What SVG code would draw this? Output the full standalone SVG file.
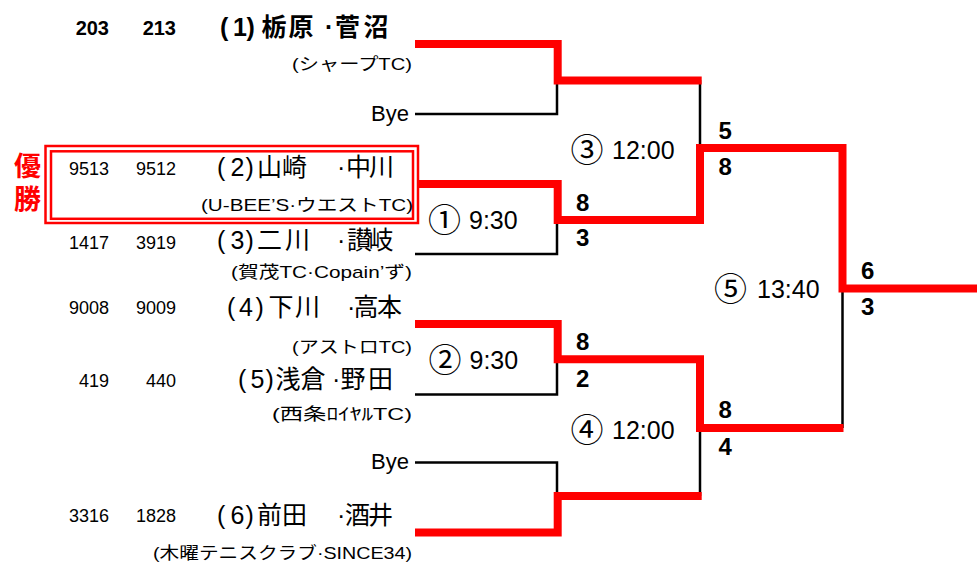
<svg xmlns="http://www.w3.org/2000/svg" width="977" height="562" viewBox="0 0 977 562">
<style>
text{font-family:"Liberation Sans","Noto Sans CJK JP",sans-serif;fill:#000}
.seed{font-size:18px}
.seedb{font-size:20px;font-weight:bold}
.name{font-size:25px}
.nameb{font-size:25px;font-weight:bold}
.club{font-size:17px}
.bye{font-size:22px}
.score{font-size:24px;font-weight:bold}
.circ{font-size:33px;font-family:"Noto Sans CJK JP",sans-serif}
.time{font-size:25px}
.win{font-size:27px;font-weight:bold;fill:#ff0000;font-family:"Noto Sans CJK JP",sans-serif;writing-mode:vertical-rl;letter-spacing:6.5px}
.blk{fill:none;stroke:#000;stroke-width:2.5}
.red{fill:none;stroke:#ff0000;stroke-width:8;stroke-linejoin:miter}
.box{fill:none;stroke:#ff0000;stroke-width:2.5}
</style>
<rect width="977" height="562" fill="#fff"/>
<g id="connectors">
<path class="blk" d="M415,114H557V80"/>
<path class="blk" d="M415,254H557V220"/>
<path class="blk" d="M700,80V148"/>
<path class="blk" d="M415,394.5H557V359"/>
<path class="blk" d="M415,462.5H557V496"/>
<path class="blk" d="M700,428V496"/>
<path class="blk" d="M842.5,288V428"/>
<path class="red" d="M415,44H557.7V80.5H701.7"/>
<path class="red" d="M418,184H557.7V220H700V148H842.5V288.5H977"/>
<path class="red" d="M415,324H557.7V359.3H700V428H843.5"/>
<path class="red" d="M415,532.5H557.7V496H701.7"/>
</g>
<g id="winner">
<rect class="box" x="45.5" y="146" width="372.5" height="77"/>
<rect class="box" x="51" y="151.3" width="362" height="67.5"/>
<text class="win" x="27.5" y="152">優勝</text>
</g>
<g id="team1">
<text class="seedb" x="109" y="35" text-anchor="end">203</text>
<text class="seedb" x="176" y="35" text-anchor="end">213</text>
<text class="nameb" x="220 233 246.5 261.5 288.5 325 335 363.5" y="36">(1)栃原·菅沼</text>
<text class="club" x="292" y="70" textLength="120" lengthAdjust="spacingAndGlyphs">(シャープTC)</text>
</g>
<g id="bye1">
<text class="bye" x="409" y="120.5" text-anchor="end">Bye</text>
</g>
<g id="team2">
<text class="seed" x="109" y="175" text-anchor="end">9513</text>
<text class="seed" x="176" y="175" text-anchor="end">9512</text>
<text class="name" x="217 230.5 245.5 257 282 337 346 369" y="175.5">(2)山崎·中川</text>
<text class="club" x="201" y="211" textLength="212" lengthAdjust="spacingAndGlyphs">(U-BEE’S·ウエストTC)</text>
</g>
<g id="team3">
<text class="seed" x="109" y="248.5" text-anchor="end">1417</text>
<text class="seed" x="176" y="248.5" text-anchor="end">3919</text>
<text class="name" x="217 230.5 245.5 257 285 337 347 368.5" y="249">(3)二川·讃岐</text>
<text class="club" x="231" y="278" textLength="181" lengthAdjust="spacingAndGlyphs">(賀茂TC·Copain’ず)</text>
</g>
<g id="team4">
<text class="seed" x="109" y="313.5" text-anchor="end">9008</text>
<text class="seed" x="176" y="313.5" text-anchor="end">9009</text>
<text class="name" x="227 239 255.5 268.5 295 347 353.5 377" y="316">(4)下川·高本</text>
<text class="club" x="292" y="353" textLength="120" lengthAdjust="spacingAndGlyphs">(アストロTC)</text>
</g>
<g id="team5">
<text class="seed" x="109" y="387" text-anchor="end">419</text>
<text class="seed" x="176" y="387" text-anchor="end">440</text>
<text class="name" x="238 250.5 265.5 275.5 300.5 332 340.5 368" y="387.5">(5)浅倉·野田</text>
<text class="club" x="272" y="420" textLength="140" lengthAdjust="spacingAndGlyphs">(西条ﾛｲﾔﾙTC)</text>
</g>
<g id="bye2">
<text class="bye" x="409" y="469" text-anchor="end">Bye</text>
</g>
<g id="team6">
<text class="seed" x="109" y="522" text-anchor="end">3316</text>
<text class="seed" x="176" y="522" text-anchor="end">1828</text>
<text class="name" x="217 230.5 245.5 257 282 337 345 368" y="523.5">(6)前田·酒井</text>
<text class="club" x="153" y="559" textLength="259" lengthAdjust="spacingAndGlyphs">(木曜テニスクラブ·SINCE34)</text>
</g>
<g id="match1">
<text class="circ" x="444.5" y="231.5" text-anchor="middle">①</text>
<text class="time" x="469" y="228.5">9:30</text>
<text class="score" x="576" y="210.5">8</text>
<text class="score" x="576" y="246">3</text>
</g>
<g id="match2">
<text class="circ" x="445" y="371.5" text-anchor="middle">②</text>
<text class="time" x="469.5" y="368.5">9:30</text>
<text class="score" x="576" y="350">8</text>
<text class="score" x="576" y="387">2</text>
</g>
<g id="match3">
<text class="circ" x="587" y="161.5" text-anchor="middle">③</text>
<text class="time" x="612" y="158.5">12:00</text>
<text class="score" x="718.5" y="139">5</text>
<text class="score" x="718.5" y="175">8</text>
</g>
<g id="match4">
<text class="circ" x="587" y="441.5" text-anchor="middle">④</text>
<text class="time" x="612" y="438.5">12:00</text>
<text class="score" x="718.5" y="418">8</text>
<text class="score" x="718.5" y="455">4</text>
</g>
<g id="match5">
<text class="circ" x="730.5" y="301" text-anchor="middle">⑤</text>
<text class="time" x="757" y="298">13:40</text>
<text class="score" x="861" y="279">6</text>
<text class="score" x="861" y="315">3</text>
</g>
</svg>
